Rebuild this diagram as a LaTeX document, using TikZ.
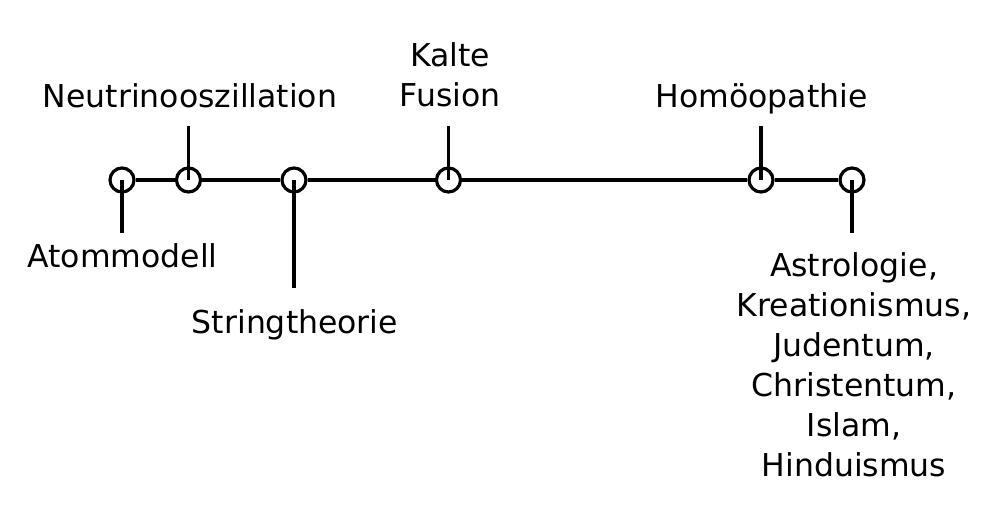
\documentclass[tikz,border=0pt]{standalone}
\usepackage{fontspec}
\setmainfont{DejaVu Sans}
\begin{document}
\begin{tikzpicture}[x=1pt,y=-1pt,line width=3.2pt,
  dot/.style={circle,draw,minimum size=24pt,inner sep=0pt},
  lbl/.style={anchor=base,inner sep=0pt,font=\fontsize{31.5}{40}\selectfont},
  tick/.style={draw}]
\useasboundingbox (0,0) rectangle (1002,512);
% points on the line
\node[dot] (c1) at (122,180) {};
\node[dot] (c2) at (188.5,180) {};
\node[dot] (c3) at (294,180) {};
\node[dot] (c4) at (448.5,180) {};
\node[dot] (c5) at (761,180) {};
\node[dot] (c6) at (852,180) {};
% line segments
\draw (c1) -- (c2);
\draw (c2) -- (c3);
\draw (c3) -- (c4);
\draw (c4) -- (c5);
\draw (c5) -- (c6);
% tick ends
\coordinate (t1) at (122,233);
\coordinate (t2) at (188.5,126);
\coordinate (t3) at (294,288);
\coordinate (t4) at (448.5,126);
\coordinate (t5) at (761,126);
\coordinate (t6) at (852,233);
\draw (c1.center) -- (t1);
\draw (c2.center) -- (t2);
\draw (c3.center) -- (t3);
\draw (c4.center) -- (t4);
\draw (c5.center) -- (t5);
\draw (c6.center) -- (t6);
% labels
\node[lbl] (l1) at (122.5,267) {Atommodell};
\node[lbl] (l2) at (190,107) {Neutrinooszillation};
\node[lbl] (l3) at (295,333) {Stringtheorie};
\node[lbl] (l4) at (450,66.7) {\begin{tabular}[t]{@{}c@{}}Kalte\\Fusion\end{tabular}};
\node[lbl] (l5) at (761.5,107) {Homöopathie};
\node[lbl] (l6) at (854,276) {\begin{tabular}[t]{@{}c@{}}Astrologie,\\Kreationismus,\\Judentum,\\Christentum,\\Islam,\\Hinduismus\end{tabular}};
\end{tikzpicture}
\end{document}
